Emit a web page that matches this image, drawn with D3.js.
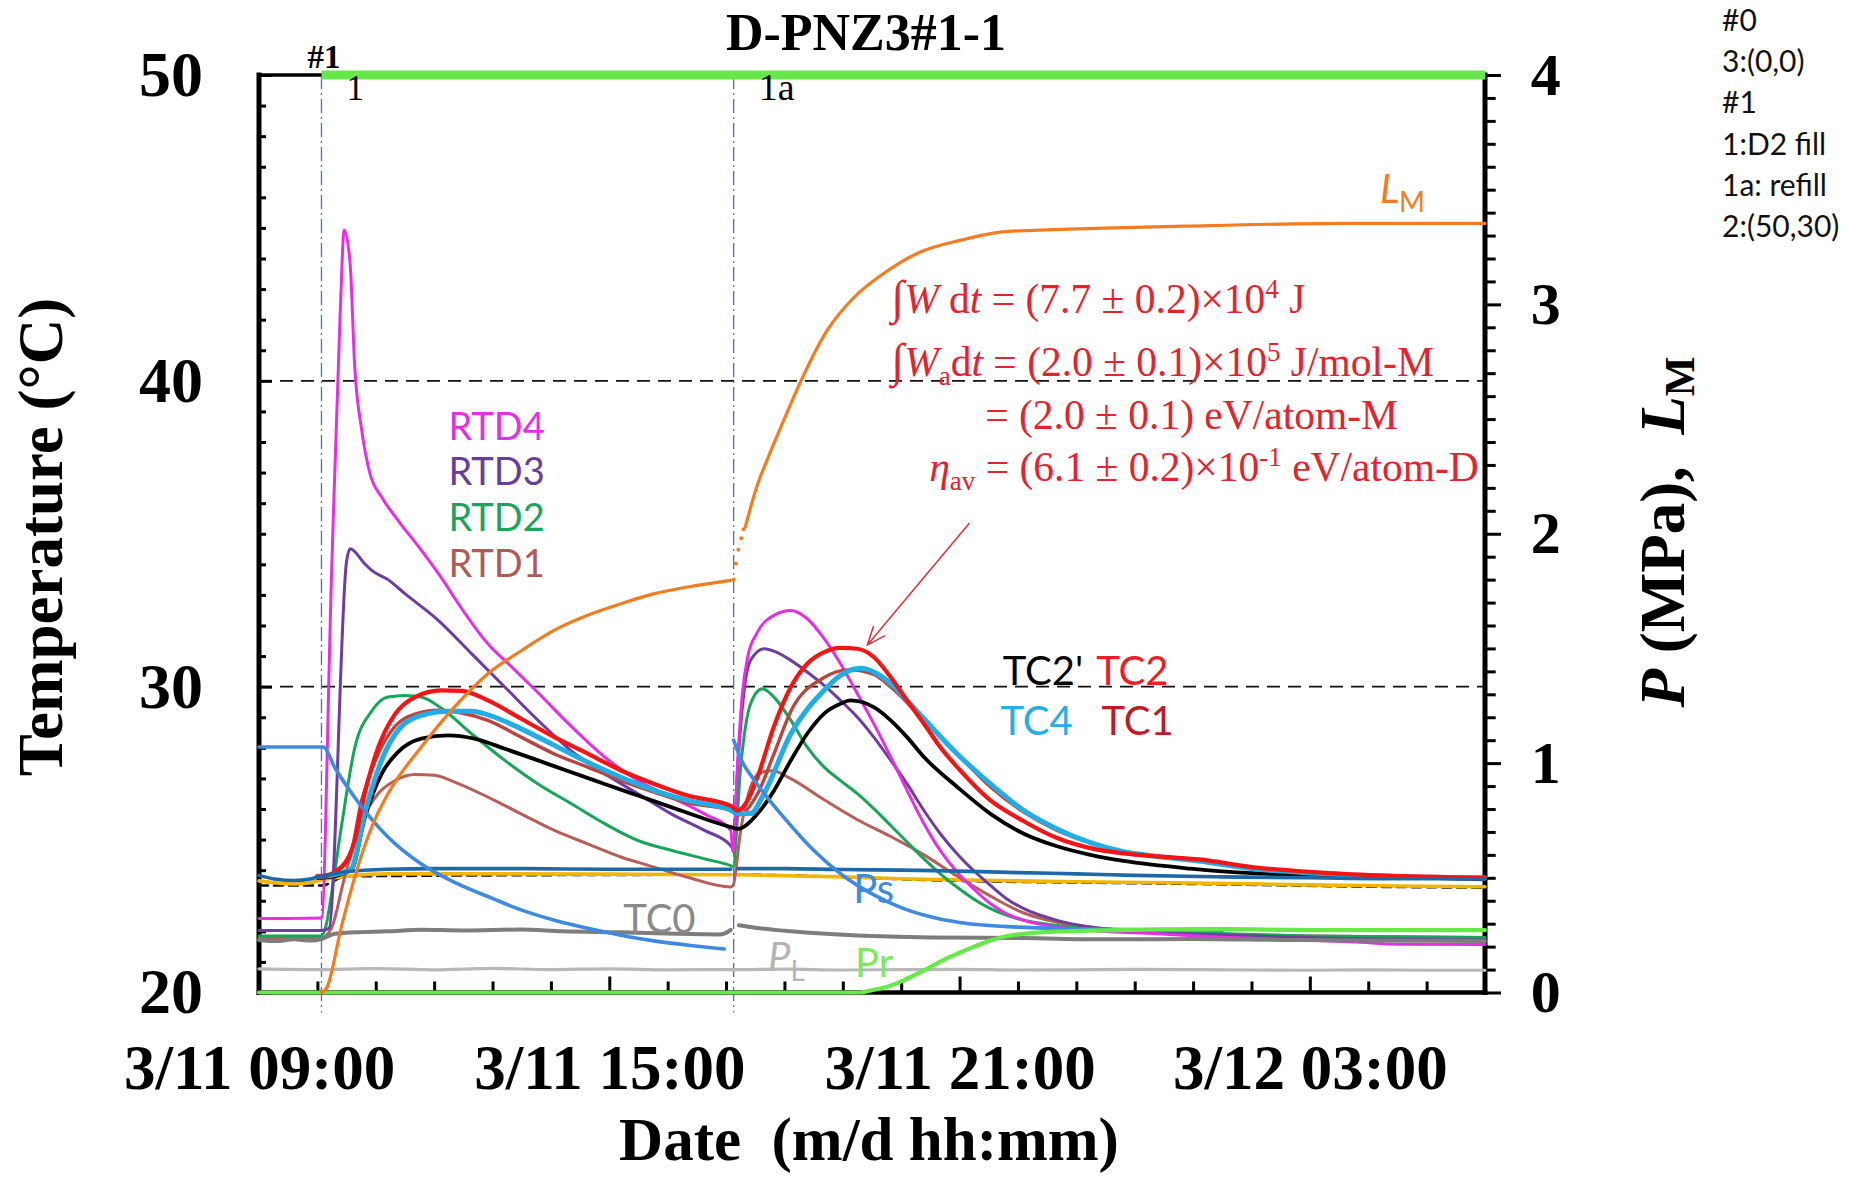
<!DOCTYPE html>
<html>
<head>
<meta charset="utf-8">
<script src="https://cdn.jsdelivr.net/npm/d3@7"></script>
<style>
  body { margin: 0; background: #fff; }
  svg { display: block; }
</style>
</head>
<body>
<svg id="chart" width="1861" height="1180"></svg>
<script>
// ---- time base: values are hours after 3/11 09:00 ----
const startTime = new Date(2021, 2, 11, 9, 0, 0);
const timeSpanHours = 21;

// event markers (hours) and their labels
const events = [{ h: 1.07, label: "1" }, { h: 8.13, label: "1a" }];
const phaseBar = { label: "#1", from: 1.07, to: 21, level: 4 };

// x tick labels shown on the axis
const xLabelHours = [0, 6, 12, 18];
const tempTicks = [20, 30, 40, 50];
const pressTicks = [0, 1, 2, 3, 4];

// ---- temperatures (°C), [hour, value] ----
const rtd4 = [[0,22.42],[1.07,22.44],[1.24,33.5],[1.39,42.2],[1.46,44.93],[1.56,43.85],[1.64,40.45],[1.76,38.38],[1.9,36.97],[2.1,36.2],[2.38,35.44],[2.78,34.46],[3.18,33.4],[3.35,32.9],[3.92,31.4],[4.38,30.55],[4.78,29.8],[5.35,28.7],[5.92,27.7],[6.49,26.93],[7.06,26.39],[7.63,25.84],[8.08,25.3],[8.12,24.6],[8.2,27.6],[8.28,29.77],[8.37,30.97],[8.54,31.79],[8.82,32.33],[9.11,32.49],[9.39,32.22],[9.68,31.57],[9.96,30.75],[10.25,29.77],[10.53,28.79],[10.82,27.7],[11.1,26.61],[11.39,25.52],[11.67,24.64],[11.96,23.93],[12.24,23.39],[12.53,22.9],[12.81,22.57],[13.1,22.36],[13.67,22.14],[14.24,22.03],[15.38,21.92],[16.52,21.81],[17.5,21.74],[18.8,21.65],[19.5,21.58],[21,21.57]];
const rtd3 = [[0,22.03],[1.07,22.03],[1.2,22.1],[1.5,34.1],[1.56,34.51],[1.81,34.02],[1.93,33.8],[2.21,33.5],[2.5,33.04],[3.07,32.17],[3.64,31.08],[4.21,29.99],[4.78,28.9],[5.35,27.9],[5.92,27.15],[6.49,26.5],[7.06,25.84],[7.63,25.3],[8.08,24.8],[8.12,24.7],[8.2,27.37],[8.31,29.88],[8.42,30.86],[8.65,31.24],[8.82,31.16],[9.11,30.86],[9.39,30.48],[9.68,30.04],[9.96,29.55],[10.25,29.0],[10.53,28.35],[10.82,27.59],[11.1,26.82],[11.39,25.95],[11.67,25.19],[11.96,24.53],[12.24,23.99],[12.53,23.5],[12.81,23.06],[13.1,22.74],[13.67,22.36],[14.24,22.14],[15.38,21.97],[17,21.85],[19,21.75],[21,21.72]];
const rtd2 = [[0,21.85],[1.07,21.85],[1.15,22.2],[1.24,23.2],[1.41,25.4],[1.64,28.0],[1.93,29.2],[2.21,29.66],[2.5,29.71],[2.78,29.66],[3.12,29.3],[3.64,28.46],[4.21,27.59],[4.78,26.82],[5.35,26.17],[5.92,25.52],[6.49,24.97],[7.06,24.65],[7.63,24.37],[8.08,24.15],[8.12,24.12],[8.25,27.37],[8.42,29.44],[8.62,29.93],[8.82,29.66],[9.11,28.9],[9.39,28.02],[9.68,27.37],[9.96,26.93],[10.25,26.5],[10.53,26.01],[10.82,25.46],[11.1,24.92],[11.39,24.37],[11.67,23.88],[11.96,23.44],[12.24,23.06],[12.53,22.74],[12.81,22.52],[13.1,22.36],[13.67,22.19],[14.5,22.05],[16,21.95],[18,21.85],[21,21.8]];
const rtd1 = [[0,21.78],[1.07,21.78],[1.24,22.1],[1.47,23.8],[1.76,25.6],[2.04,26.5],[2.33,26.93],[2.67,27.13],[3.01,27.1],[3.35,26.88],[3.92,26.39],[4.49,25.84],[5.06,25.3],[5.63,24.86],[6.2,24.43],[6.77,24.1],[7.34,23.77],[8.08,23.45],[8.12,23.5],[8.25,25.3],[8.4,26.6],[8.6,27.2],[8.8,27.25],[9.1,27.0],[9.68,26.3],[10.25,25.65],[10.82,25.1],[11.39,24.5],[11.96,23.8],[12.53,23.15],[13.1,22.6],[13.67,22.3],[14.24,22.14],[15,22.0],[17,21.88],[21,21.8]];
const tc2 = [[1.0,23.8],[1.07,23.8],[1.41,24.1],[1.64,24.97],[1.81,26.5],[2.04,28.0],[2.33,29.1],[2.67,29.66],[3.12,29.88],[3.47,29.86],[3.92,29.55],[4.49,28.95],[5.06,28.35],[5.63,27.81],[6.2,27.26],[6.77,26.82],[7.34,26.44],[8.08,26.1],[8.2,25.95],[8.37,26.28],[8.54,27.05],[8.82,28.7],[9.11,29.99],[9.39,30.75],[9.68,31.13],[9.96,31.27],[10.25,31.24],[10.53,30.97],[10.82,30.31],[11.1,29.55],[11.39,28.79],[11.67,28.02],[11.96,27.37],[12.53,26.28],[13.1,25.6],[13.67,25.05],[14.24,24.72],[14.81,24.55],[15.38,24.45],[16.1,24.35],[17,24.1],[18.1,23.93],[19.2,23.83],[21,23.75]];
const tc1 = [[1.0,23.78],[1.07,23.78],[1.53,24.3],[1.76,26.3],[2.04,27.8],[2.33,28.7],[2.67,29.1],[3.07,29.23],[3.47,29.14],[3.92,28.9],[4.49,28.35],[5.06,27.8],[5.63,27.37],[6.2,26.93],[6.77,26.55],[7.34,26.2],[8.08,25.96],[8.2,25.8],[8.54,26.5],[8.82,27.8],[9.11,29.2],[9.68,30.3],[10.1,30.55],[10.53,30.4],[10.82,29.99],[11.39,28.9],[11.96,27.8],[12.53,26.72],[13.1,25.9],[13.67,25.3],[14.24,24.9],[14.81,24.6],[15.38,24.45],[16.1,24.3],[17,24.05],[18.1,23.9],[19.2,23.8],[21,23.72]];
const tc4 = [[1.0,23.8],[1.07,23.8],[1.4,23.9],[1.58,24.04],[1.81,25.84],[2.1,27.59],[2.38,28.57],[2.78,29.06],[3.24,29.2],[3.64,29.2],[4.04,29.0],[4.49,28.62],[5.06,28.08],[5.63,27.53],[6.2,27.04],[6.77,26.61],[7.34,26.28],[8.08,25.96],[8.2,25.85],[8.42,25.85],[8.65,26.5],[9.11,28.46],[9.68,29.88],[9.96,30.37],[10.31,30.6],[10.53,30.48],[10.82,30.1],[11.1,29.55],[11.39,28.95],[11.96,27.8],[12.53,26.82],[13.1,25.95],[13.67,25.35],[14.24,24.9],[14.81,24.6],[15.38,24.45],[16.1,24.3],[17,24.05],[18.1,23.9],[19.2,23.8],[21,23.75]];
const tc2p = [[1.0,23.75],[1.07,23.75],[1.58,24.0],[1.81,25.7],[2.1,27.15],[2.38,27.86],[2.78,28.3],[3.24,28.41],[3.69,28.3],[4.21,27.97],[4.78,27.59],[5.35,27.2],[5.92,26.82],[6.49,26.44],[7.06,26.06],[7.63,25.68],[8.08,25.41],[8.2,25.35],[8.54,25.85],[8.82,26.6],[9.11,27.59],[9.39,28.46],[9.68,29.12],[9.96,29.44],[10.13,29.55],[10.53,29.33],[10.82,28.9],[11.1,28.35],[11.39,27.7],[11.96,26.72],[12.53,25.84],[13.1,25.19],[13.67,24.78],[14.24,24.5],[14.81,24.3],[15.95,24.05],[17,23.9],[19,23.8],[21,23.7]];
const tc0 = [[0,21.72],[0.3,21.68],[0.6,21.74],[0.9,21.7],[1.07,21.75],[1.3,21.92],[1.64,21.97],[2.2,22.0],[2.78,22.05],[3.5,22.03],[4.49,22.06],[5.2,22.0],[6.2,21.97],[7.0,21.93],[7.9,21.9],[8.0,21.95],[8.08,22.05],[8.15,null],[8.22,22.2],[8.5,22.12],[9.11,22.0],[10.25,21.86],[11.5,21.8],[13.1,21.78],[14.5,21.74],[16,21.75],[17.5,21.72],[19,21.7],[21,21.68]];
const ambientBlue = [[0,23.83],[0.3,23.7],[0.6,23.66],[0.9,23.72],[1.07,23.8],[1.5,23.95],[2.2,24.03],[3,24.05],[4.5,24.05],[6,24.03],[8.08,24.03],[8.15,null],[8.2,24.05],[9,24.05],[10,24.02],[11,24.0],[12,23.97],[13,23.92],[14,23.88],[15,23.83],[16.5,23.78],[18,23.75],[19.5,23.72],[21,23.72]];
const ambientYellow = [[0,23.65],[0.3,23.58],[0.6,23.55],[0.9,23.6],[1.07,23.68],[1.5,23.8],[2.2,23.88],[4,23.88],[6,23.87],[8.08,23.85],[8.15,null],[8.2,23.85],[9,23.82],[10,23.78],[11,23.72],[12,23.68],[14,23.62],[16,23.58],[18,23.52],[19.5,23.48],[21,23.46]];
const ambientRef = [[0,23.5],[1.07,23.5],[1.5,23.8],[8.08,23.85],[8.2,23.85],[12,23.65],[16,23.55],[19.5,23.45],[21,23.43]];

// ---- pressures (MPa) and loading ratio, [hour, value] ----
const ps = [[0,1.07],[1.1,1.07],[1.3,0.98],[1.64,0.85],[2.2,0.68],[2.78,0.56],[3.35,0.48],[4.0,0.41],[4.49,0.36],[5.06,0.315],[5.63,0.28],[6.2,0.25],[6.77,0.225],[7.4,0.205],[7.97,0.19],[8.05,null],[8.13,1.10],[8.25,1.02],[8.5,0.92],[9.0,0.76],[9.5,0.62],[10.0,0.51],[10.5,0.43],[11.0,0.37],[11.5,0.33],[12.0,0.305],[13.0,0.285],[14.0,0.278],[15.5,0.272],[16.5,0.27]];
const pr = [[0,0],[10.3,0],[10.5,0.01],[10.82,0.03],[11.1,0.06],[11.39,0.096],[11.67,0.135],[11.96,0.169],[12.25,0.2],[12.53,0.227],[12.8,0.245],[13.1,0.256],[13.7,0.266],[14.24,0.27],[16.5,0.276],[18,0.272],[21,0.272]];
const pl = [[0,0.103],[1,0.1],[2,0.104],[3,0.099],[4,0.105],[5,0.1],[6,0.103],[7,0.099],[8.08,0.1],[8.2,0.1],[9,0.102],[10,0.098],[11,0.1],[12,0.101],[13,0.098],[14,0.099],[15,0.101],[16,0.1],[17,0.098],[18,0.097],[19,0.099],[20,0.097],[21,0.097]];
const lm = [[1.07,0],[1.16,0.02],[1.41,0.285],[1.64,0.503],[1.93,0.721],[2.21,0.867],[2.78,1.07],[3.35,1.245],[3.92,1.39],[4.49,1.49],[5.06,1.58],[5.63,1.645],[6.2,1.695],[6.77,1.739],[7.34,1.768],[8.08,1.797],[8.12,null],[8.33,2.03],[8.52,2.2],[8.75,2.35],[8.98,2.49],[9.2,2.62],[9.74,2.89],[10.19,3.03],[10.73,3.14],[11.27,3.222],[12.03,3.28],[12.79,3.317],[14.32,3.331],[15.85,3.341],[18.66,3.353],[21,3.353]];
const lmRefill = [[8.13,1.8],[8.17,1.87],[8.21,1.93],[8.26,1.98],[8.30,2.02]];

// ---- scales ----
const toDate = h => new Date(startTime.getTime() + h * 3600e3);
const x = d3.scaleTime().domain([toDate(0), toDate(timeSpanHours)]).range([259, 1485]);
const yT = d3.scaleLinear().domain([20, 50]).range([992.5, 75]);
const yP = d3.scaleLinear().domain([0, 4]).range([992.5, 75]);
const xh = h => x(toDate(h));

const svg = d3.select("#chart");
const serif = "'Liberation Serif','Times New Roman',serif";
const sans = "Lato,'Open Sans',sans-serif";

// ---- dashed reference lines ----
svg.append("g").selectAll("line").data([30, 40]).join("line")
  .attr("x1", xh(0)).attr("x2", xh(timeSpanHours))
  .attr("y1", d => yT(d)).attr("y2", d => yT(d))
  .attr("stroke", "#111").attr("stroke-width", 1.6).attr("stroke-dasharray", "13,8");

// ---- event lines ----
svg.append("g").selectAll("line").data(events).join("line")
  .attr("x1", d => xh(d.h)).attr("x2", d => xh(d.h))
  .attr("y1", yP(4)).attr("y2", yP(0) + 20)
  .attr("stroke", "#4f72a3").attr("stroke-width", 1.3).attr("stroke-dasharray", "14,4,2,4");

// ---- frame ----
const frame = svg.append("g").attr("stroke", "#000").attr("stroke-linecap", "square");
frame.append("line").attr("x1", xh(0)).attr("x2", xh(0)).attr("y1", yT(50)).attr("y2", yT(20)).attr("stroke-width", 5);
frame.append("line").attr("x1", xh(timeSpanHours)).attr("x2", xh(timeSpanHours)).attr("y1", yT(50)).attr("y2", yT(20)).attr("stroke-width", 5);
frame.append("line").attr("x1", xh(0)).attr("x2", xh(timeSpanHours)).attr("y1", yT(20)).attr("y2", yT(20)).attr("stroke-width", 4.5);
frame.append("line").attr("x1", xh(0)).attr("x2", xh(phaseBar.from)).attr("y1", yT(50)).attr("y2", yT(50)).attr("stroke-width", 3.5);

// ---- axes ----
const axisFont = g => g.attr("font-family", serif).attr("font-weight", "bold").attr("fill", "#000");

const gl = svg.append("g").attr("transform", `translate(${xh(0)},0)`)
  .call(d3.axisLeft(yT).tickValues(d3.range(20, 51)).tickSizeInner(-7).tickSizeOuter(0).tickPadding(56)
    .tickFormat(d => tempTicks.includes(d) ? d : ""));
gl.select(".domain").remove();
gl.selectAll(".tick line").attr("stroke-width", 3).filter(d => tempTicks.includes(d)).attr("x2", 13);
gl.selectAll(".tick text").attr("font-size", 64).call(axisFont);

const gr = svg.append("g").attr("transform", `translate(${xh(timeSpanHours)},0)`)
  .call(d3.axisRight(yP).tickValues(d3.range(0, 41).map(i => i / 10)).tickSizeInner(10.7).tickSizeOuter(0).tickPadding(35)
    .tickFormat(d => pressTicks.includes(d) ? d : ""));
gr.select(".domain").remove();
gr.selectAll(".tick line").attr("stroke-width", 3).filter(d => pressTicks.includes(d)).attr("x2", 16);
gr.selectAll(".tick text").attr("font-size", 60).call(axisFont);

const fmt = d3.timeFormat("%-m/%d %H:%M");
const gb = svg.append("g").attr("transform", `translate(0,${yT(20)})`)
  .call(d3.axisBottom(x).tickValues(d3.range(0, timeSpanHours + 1).map(toDate)).tickSizeInner(-11).tickSizeOuter(0).tickPadding(52)
    .tickFormat(d => xLabelHours.map(h => +toDate(h)).includes(+d) ? fmt(d) : ""));
gb.select(".domain").remove();
gb.selectAll(".tick line").attr("stroke-width", 3)
  .filter(d => ((+d - +startTime) / 3600e3) % 6 === 0).attr("y2", -16);
gb.selectAll(".tick text").attr("font-size", 63).call(axisFont);

// ---- series ----
const lineT = d3.line().defined(d => d[1] != null).x(d => xh(d[0])).y(d => yT(d[1])).curve(d3.curveMonotoneX);
const lineP = d3.line().defined(d => d[1] != null).x(d => xh(d[0])).y(d => yP(d[1])).curve(d3.curveMonotoneX);

const series = [
  { data: pl, gen: lineP, color: "#b8b8b8", w: 3.2 },
  { data: ambientRef, gen: lineT, color: "#111", w: 2.6, dash: "9,6" },
  { data: ambientYellow, gen: lineT, color: "#f2b600", w: 3.6 },
  { data: rtd1, gen: lineT, color: "#b85e5a", w: 3 },
  { data: rtd2, gen: lineT, color: "#17a55a", w: 3 },
  { data: rtd3, gen: lineT, color: "#6e3da0", w: 3 },
  { data: rtd4, gen: lineT, color: "#e62fe4", w: 3 },
  { data: tc2p, gen: lineT, color: "#000", w: 3.8 },
  { data: tc1, gen: lineT, color: "#b8453f", w: 3.4 },
  { data: tc4, gen: lineT, color: "#22ade6", w: 5 },
  { data: tc2, gen: lineT, color: "#f51414", w: 4.2 },
  { data: ambientBlue, gen: lineT, color: "#1f68a8", w: 3.6 },
  { data: tc0, gen: lineT, color: "#7d7d7d", w: 4 },
  { data: ps, gen: lineP, color: "#3e8ae0", w: 3.6 },
  { data: pr, gen: lineP, color: "#66ea48", w: 4.2 },
  { data: lm, gen: lineP, color: "#f47b20", w: 3.2 }
];
svg.append("g").attr("fill", "none").attr("stroke-linejoin", "round").attr("stroke-linecap", "round")
  .selectAll("path").data(series).join("path")
  .attr("d", d => d.gen(d.data))
  .attr("stroke", d => d.color).attr("stroke-width", d => d.w)
  .attr("stroke-dasharray", d => d.dash || null);

svg.append("g").selectAll("circle").data(lmRefill).join("circle")
  .attr("cx", d => xh(d[0])).attr("cy", d => yP(d[1])).attr("r", 2).attr("fill", "#f47b20");

// ---- phase bar along the top ----
svg.append("line")
  .attr("x1", xh(phaseBar.from)).attr("x2", xh(phaseBar.to))
  .attr("y1", yP(phaseBar.level)).attr("y2", yP(phaseBar.level))
  .attr("stroke", "#66e84a").attr("stroke-width", 9);

// ---- titles ----
svg.append("text").attr("x", 866).attr("y", 50).attr("text-anchor", "middle")
  .attr("font-family", serif).attr("font-weight", "bold").attr("font-size", 52).text("D-PNZ3#1-1");

svg.append("text").attr("x", 869).attr("y", 1160).attr("text-anchor", "middle")
  .attr("font-family", serif).attr("font-weight", "bold").attr("font-size", 61)
  .style("white-space", "pre").text("Date  (m/d hh:mm)");

svg.append("text").attr("transform", "translate(62,537) rotate(-90)").attr("text-anchor", "middle")
  .attr("font-family", serif).attr("font-weight", "bold").attr("font-size", 63).text("Temperature (°C)");

const rl = svg.append("text").attr("transform", "translate(1684,532) rotate(-90)").attr("text-anchor", "middle")
  .attr("font-family", serif).attr("font-weight", "bold").attr("font-size", 63).style("white-space", "pre");
rl.append("tspan").attr("font-style", "italic").text("P");
rl.append("tspan").text(" (MPa),  ");
rl.append("tspan").attr("font-style", "italic").text("L");
rl.append("tspan").attr("font-size", 42).attr("dy", 10).text("M");

// ---- event labels ----
svg.append("text").attr("x", xh(0.83)).attr("y", 68).attr("font-family", serif).attr("font-weight", "bold")
  .attr("font-size", 33).text(phaseBar.label);
svg.append("g").selectAll("text").data(events).join("text")
  .attr("x", d => xh(d.h) + 25).attr("y", 100).attr("font-family", serif).attr("font-size", d => d.label.length > 1 ? 38 : 35)
  .text(d => d.label);

// ---- series labels ----
const rtdLabels = [
  { t: "RTD4", h: 3.245, v: 38.06, c: "#e62fe4" },
  { t: "RTD3", h: 3.245, v: 36.58, c: "#6a3d9a" },
  { t: "RTD2", h: 3.245, v: 35.09, c: "#1aa55a" },
  { t: "RTD1", h: 3.245, v: 33.6, c: "#b05a55" }
];
svg.append("g").attr("font-family", sans).attr("font-size", 38)
  .selectAll("text").data(rtdLabels).join("text")
  .attr("x", d => xh(d.h)).attr("y", d => yT(d.v)).attr("fill", d => d.c).text(d => d.t);

const tcLabels = [
  { t: "TC2'", h: 12.74, v: 30.05, c: "#000" },
  { t: "TC2", h: 14.34, v: 30.05, c: "#ee1c24" },
  { t: "TC4", h: 12.70, v: 28.42, c: "#23aee6" },
  { t: "TC1", h: 14.43, v: 28.42, c: "#c01a24" },
  { t: "TC0", h: 6.24, v: 21.95, c: "#8a8a8a" }
];
svg.append("g").attr("font-family", sans).attr("font-size", 40)
  .selectAll("text").data(tcLabels).join("text")
  .attr("x", d => xh(d.h)).attr("y", d => yT(d.v)).attr("fill", d => d.c).text(d => d.t);

const pLabels = [
  { t: "Ps", h: 10.18, v: 0.39, c: "#3e8ae0" },
  { t: "Pr", h: 10.21, v: 0.068, c: "#80e860" }
];
svg.append("g").attr("font-family", sans).attr("font-size", 40)
  .selectAll("text").data(pLabels).join("text")
  .attr("x", d => xh(d.h)).attr("y", d => yP(d.v)).attr("fill", d => d.c).text(d => d.t);

const plLab = svg.append("text").attr("x", xh(8.72)).attr("y", yP(0.095)).attr("font-family", sans)
  .attr("font-size", 40).attr("fill", "#b4b4b4");
plLab.append("tspan").attr("font-style", "italic").text("P");
plLab.append("tspan").attr("font-size", 28).attr("dy", 10).text("L");

const lmLab = svg.append("text").attr("x", xh(19.2)).attr("y", yP(3.443)).attr("font-family", sans)
  .attr("font-size", 40).attr("fill", "#f47b20");
lmLab.append("tspan").attr("font-style", "italic").text("L");
lmLab.append("tspan").attr("font-size", 28).attr("dy", 9).text("M");

// ---- energy annotation ----
const red = "#e3242e";
const note = svg.append("g").attr("font-family", serif).attr("font-size", 41.5).attr("fill", red).style("white-space", "pre");
function noteLine(h, v, parts) {
  const t = note.append("text").attr("x", xh(h)).attr("y", yT(v));
  let shift = 0;
  parts.forEach(p => {
    const s = t.append("tspan").text(p.s);
    if (p.i) s.attr("font-style", "italic");
    if (p.size) s.attr("font-size", p.size);
    const target = p.sup ? -15 : p.sub ? 9 : 0;
    if (target !== shift) { s.attr("dy", target - shift); shift = target; }
  });
}
noteLine(10.83, 42.22, [{ s: "∫", size: 47 }, { s: "W", i: 1 }, { s: " d" }, { s: "t", i: 1 }, { s: " = (7.7 ± 0.2)×10" }, { s: "4", sup: 1, size: 27 }, { s: " J" }]);
noteLine(10.83, 40.16, [{ s: "∫", size: 47 }, { s: "W", i: 1 }, { s: "a", sub: 1, size: 27 }, { s: "d" }, { s: "t", i: 1 }, { s: " = (2.0 ± 0.1)×10" }, { s: "5", sup: 1, size: 27 }, { s: " J/mol-M" }]);
noteLine(12.44, 38.42, [{ s: "= (2.0 ± 0.1) eV/atom-M" }]);
noteLine(11.48, 36.72, [{ s: "η", i: 1 }, { s: "av", sub: 1, size: 27 }, { s: " = (6.1 ± 0.2)×10" }, { s: "-1", sup: 1, size: 27 }, { s: " eV/atom-D" }]);

// arrow pointing at the TC2 second peak
const arrowFrom = [12.17, 35.35], arrowTo = [10.42, 31.36];
const ax1 = xh(arrowFrom[0]), ay1 = yT(arrowFrom[1]), ax2 = xh(arrowTo[0]), ay2 = yT(arrowTo[1]);
const ang = Math.atan2(ay2 - ay1, ax2 - ax1);
const barb = 20, spread = 0.38;
svg.append("path")
  .attr("d", `M${ax1},${ay1}L${ax2},${ay2}` +
    `M${ax2 - barb * Math.cos(ang - spread)},${ay2 - barb * Math.sin(ang - spread)}L${ax2},${ay2}` +
    `L${ax2 - barb * Math.cos(ang + spread)},${ay2 - barb * Math.sin(ang + spread)}`)
  .attr("fill", "none").attr("stroke", "#e0303a").attr("stroke-width", 1.5);

// ---- run notes ----
const runNotes = ["#0", "3:(0,0)", "#1", "1:D2 fill", "1a: refill", "2:(50,30)"];
svg.append("g").attr("font-family", sans).attr("font-size", 30).attr("fill", "#111")
  .selectAll("text").data(runNotes).join("text")
  .attr("x", 1722).attr("y", (d, i) => 31 + i * 41.2).text(d => d);
</script>
</body>
</html>
